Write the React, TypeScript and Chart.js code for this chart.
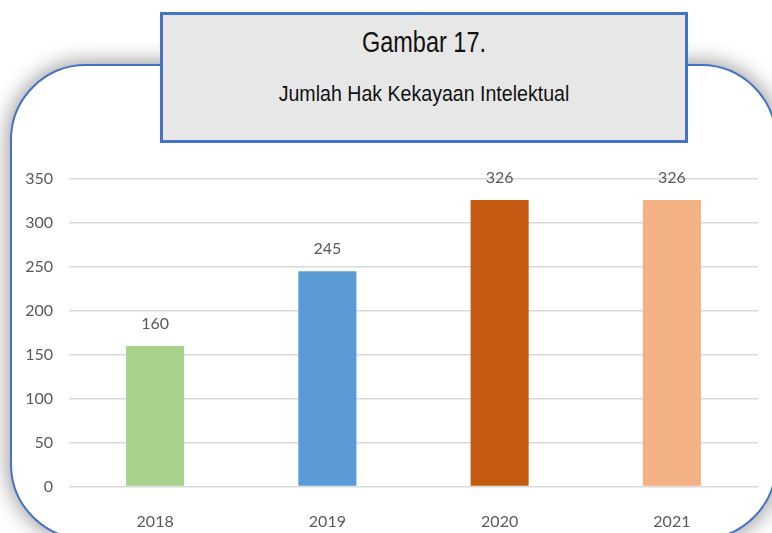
import React, { useEffect, useRef } from "react";
import { Chart, registerables } from "chart.js";

Chart.register(...registerables);

const categories = ["2018", "2019", "2020", "2021"];
const values = [160, 245, 326, 326];
const barColors = ["#A9D18E", "#5B9BD5", "#C55A11", "#F4B183"];
const yTicks = [0, 50, 100, 150, 200, 250, 300, 350];
const titleLine1 = "Gambar 17.";
const titleLine2 = "Jumlah Hak Kekayaan Intelektual";

const TEXT_FONT = "Lato, 'Open Sans', sans-serif";
const TITLE_FONT = "'Liberation Sans', Arial, sans-serif";

const labelPlugin = {
  id: "valueLabels",
  afterDatasetsDraw(chart: any) {
    const ctx = chart.ctx;
    const meta = chart.getDatasetMeta(0);
    ctx.save();
    ctx.fillStyle = "#595959";
    ctx.font = `16px ${TEXT_FONT}`;
    ctx.textAlign = "center";
    ctx.textBaseline = "middle";
    meta.data.forEach((bar: any, i: number) => {
      ctx.fillText(String(values[i]), bar.x, bar.y - 22);
    });
    ctx.restore();
  },
};

export default function App() {
  const canvasRef = useRef<HTMLCanvasElement | null>(null);

  useEffect(() => {
    if (!canvasRef.current) return;
    const chart = new Chart(canvasRef.current, {
      type: "bar",
      data: {
        labels: categories,
        datasets: [
          {
            data: values,
            backgroundColor: barColors,
            borderWidth: 0,
            barPercentage: 0.337,
            categoryPercentage: 1,
          },
        ],
      },
      options: {
        responsive: false,
        animation: false,
        devicePixelRatio: 1,
        layout: { padding: { top: 29, right: 14, left: 0, bottom: 0 } },
        plugins: {
          legend: { display: false },
          title: { display: false },
          tooltip: { enabled: false },
        },
        scales: {
          x: {
            grid: { display: false },
            border: { display: false },
            ticks: {
              color: "#595959",
              font: { family: TEXT_FONT, size: 16 },
              padding: 18,
            },
            afterFit: (scale: any) => {
              scale.height = 46.5;
            },
          },
          y: {
            min: 0,
            max: 350,
            afterBuildTicks: (scale: any) => {
              scale.ticks = yTicks.map((v) => ({ value: v }));
            },
            grid: { color: "#D9D9D9", lineWidth: 1.6, drawTicks: false },
            border: { display: false },
            ticks: {
              color: "#595959",
              font: { family: TEXT_FONT, size: 16 },
              padding: 16,
            },
            afterFit: (scale: any) => {
              scale.width = 69;
            },
          },
        },
      },
      plugins: [labelPlugin],
    } as any);
    return () => chart.destroy();
  }, []);

  return (
    <div
      style={{
        position: "fixed",
        left: 0,
        top: 0,
        width: 772,
        height: 533,
        overflow: "hidden",
        background: "#FFFFFF",
      }}
    >
      <div
        style={{
          position: "absolute",
          left: 10,
          top: 64,
          width: 767,
          height: 476,
          boxSizing: "border-box",
          border: "2.5px solid #4472C4",
          borderRadius: 76,
          background: "#FFFFFF",
          boxShadow: "0 0 20px 3px rgba(0,0,0,0.38)",
        }}
      />
      <div
        style={{
          position: "absolute",
          left: 160,
          top: 12,
          width: 528,
          height: 131,
          boxSizing: "border-box",
          border: "3px solid #4472C4",
          background: "#E7E7E7",
        }}
      >
        <div
          style={{
            position: "absolute",
            left: 0,
            right: 0,
            top: 25,
            textAlign: "center",
            fontFamily: TITLE_FONT,
            fontSize: 29,
            lineHeight: "1",
            color: "#111111",
            transform: "translateY(-50%) scaleX(0.81)",
            whiteSpace: "nowrap",
          }}
        >
          <span style={{ position: "relative", top: 2 }}>{titleLine1}</span>
        </div>
        <div
          style={{
            position: "absolute",
            left: 0,
            right: 0,
            top: 77,
            textAlign: "center",
            fontFamily: TITLE_FONT,
            fontSize: 22,
            lineHeight: "1",
            color: "#111111",
            transform: "translateY(-50%) scaleX(0.89)",
            whiteSpace: "nowrap",
          }}
        >
          <span style={{ position: "relative", top: 2 }}>{titleLine2}</span>
        </div>
      </div>
      <canvas
        ref={canvasRef}
        width={772}
        height={383}
        style={{ position: "absolute", left: 0, top: 150, width: 772, height: 383 }}
      />
    </div>
  );
}
